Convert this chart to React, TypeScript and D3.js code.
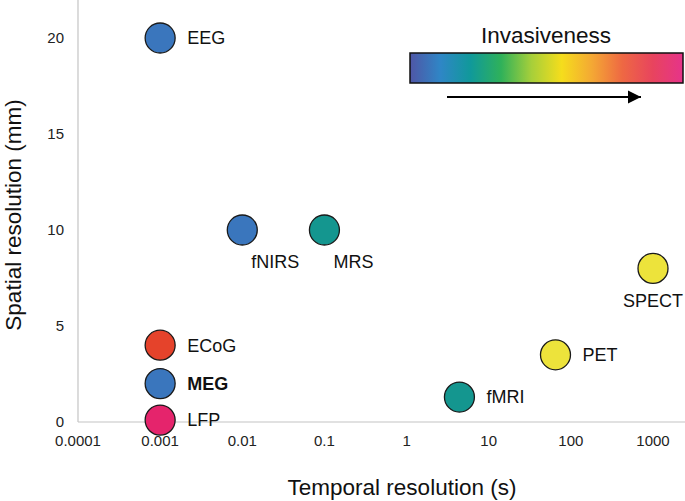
import React from "react";
import * as d3 from "d3";

const techniques = ["EEG", "fNIRS", "MRS", "ECoG", "MEG", "LFP", "fMRI", "PET", "SPECT"];
const temporal = [0.001, 0.01, 0.1, 0.001, 0.001, 0.001, 4.4, 65, 1000];
const spatial = [20, 10, 10, 4, 2, 0.1, 1.3, 3.5, 8];
const invasiveGroup = ["blue", "blue", "teal", "red", "blue", "pink", "teal", "yellow", "yellow"];
const xTicks = [0.0001, 0.001, 0.01, 0.1, 1, 10, 100, 1000];
const xTickLabels = ["0.0001", "0.001", "0.01", "0.1", "1", "10", "100", "1000"];
const yTicks = [0, 5, 10, 15, 20];
const gradientColors = ["#4f56a6", "#2f86c6", "#10999a", "#2fb15a", "#a6cf3a", "#f5dd1c", "#f4a834", "#ee6843", "#e8445e", "#e6338a"];

const groupColor: Record<string, string> = {
  blue: "#3a76bd",
  teal: "#14968f",
  red: "#e5432b",
  pink: "#e5246c",
  yellow: "#ede33b",
};

// label placement
const labelPlace: Record<string, string> = {
  EEG: "right", fNIRS: "belowRight", MRS: "belowRight", ECoG: "right", MEG: "right",
  LFP: "right", fMRI: "right", PET: "right", SPECT: "below",
};

export default function App() {
  const W = 685, H = 501;
  const x = d3.scaleLog().domain([0.0001, 1000]).range([78, 653]);
  const y = d3.scaleLinear().domain([0, 20]).range([422, 38]);
  const font = "'Liberation Sans', Arial, sans-serif";
  const r = 15;
  const gx0 = 410, gx1 = 683, gy0 = 53, gy1 = 83;

  return (
    <svg width={W} height={H} style={{ position: "absolute", left: 0, top: 0, background: "#fff" }} fontFamily={font}>
      <defs>
        <linearGradient id="inv" x1="0" x2="1" y1="0" y2="0">
          {gradientColors.map((c, i) => (
            <stop key={i} offset={i / (gradientColors.length - 1)} stopColor={c} />
          ))}
        </linearGradient>
        <marker id="arrow" viewBox="0 0 10 10" refX="10" refY="5" markerUnits="userSpaceOnUse" markerWidth="13" markerHeight="16" orient="auto">
          <path d="M0,0 L10,5 L0,10 Z" fill="#000" />
        </marker>
      </defs>
      {/* axes */}
      <line x1={78} x2={78} y1={0} y2={y(0)} stroke="#c4c4c4" strokeWidth={1.2} />
      <line x1={78} x2={W} y1={y(0)} y2={y(0)} stroke="#c4c4c4" strokeWidth={1.2} />
      {yTicks.map((t) => (
        <text key={t} x={64} y={y(t)} dy="0.35em" textAnchor="end" fontSize={15} fill="#222">{t}</text>
      ))}
      {xTicks.map((t, i) => (
        <text key={t} x={x(t)} y={441} dy="0.35em" textAnchor="middle" fontSize={15} fill="#222">{xTickLabels[i]}</text>
      ))}
      <text x={402} y={495} textAnchor="middle" fontSize={22.5} fill="#111">Temporal resolution (s)</text>
      <text transform={`translate(21,${215}) rotate(-90)`} textAnchor="middle" fontSize={22.5} fill="#111">Spatial resolution (mm)</text>

      {/* legend gradient */}
      <text x={546} y={43} textAnchor="middle" fontSize={22.5} fill="#111">Invasiveness</text>
      <rect x={gx0} y={gy0} width={gx1 - gx0} height={gy1 - gy0} fill="url(#inv)" stroke="#111" strokeWidth={1.5} />
      <line x1={447} x2={641} y1={97} y2={97} stroke="#000" strokeWidth={2} markerEnd="url(#arrow)" />

      {/* points */}
      {techniques.map((name, i) => {
        const cx = x(temporal[i]);
        const cy = y(spatial[i]);
        const place = labelPlace[name];
        let lx = cx + r + 12, ly = cy, anchor = "start";
        if (place === "belowRight") { lx = cx + 9; ly = cy + 32; }
        if (place === "below") { lx = cx; ly = cy + 32; anchor = "middle"; }
        return (
          <g key={name}>
            <circle cx={cx} cy={cy} r={r} fill={groupColor[invasiveGroup[i]]} stroke="#1a1a1a" strokeWidth={1.3} />
            <text x={lx} y={ly} dy="0.35em" textAnchor={anchor} fontSize={18} fontWeight={name === "MEG" ? "bold" : "normal"} fill="#111">{name}</text>
          </g>
        );
      })}
    </svg>
  );
}
